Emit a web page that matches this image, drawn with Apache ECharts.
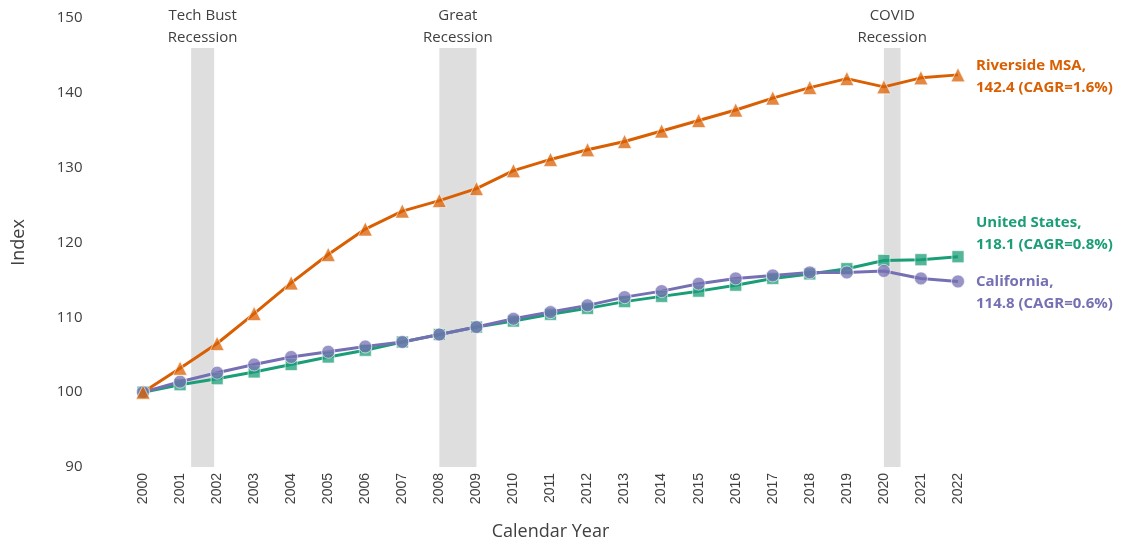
<!DOCTYPE html>
<html>
<head>
<meta charset="utf-8">
<script src="https://cdn.jsdelivr.net/npm/echarts@6/dist/echarts.min.js"></script>
<style>
  html, body { margin: 0; padding: 0; background: #fff; }
  #chart { width: 1121px; height: 542px; }
</style>
</head>
<body>
<div id="chart"></div>
<script>
// Calendar years on the horizontal axis
const years = ['2000','2001','2002','2003','2004','2005','2006','2007','2008','2009','2010',
  '2011','2012','2013','2014','2015','2016','2017','2018','2019','2020','2021','2022'];

// Index values (2000 = 100)
const riverside = [100.0, 103.2, 106.5, 110.5, 114.6, 118.4, 121.8, 124.2, 125.6, 127.2, 129.6,
  131.1, 132.4, 133.5, 134.9, 136.3, 137.7, 139.3, 140.7, 141.9, 140.8, 142.0, 142.4];
const unitedStates = [100.0, 101.0, 101.8, 102.7, 103.7, 104.7, 105.6, 106.7, 107.7, 108.7, 109.5,
  110.4, 111.2, 112.1, 112.8, 113.5, 114.3, 115.2, 115.8, 116.5, 117.6, 117.7, 118.1];
const california = [100.0, 101.4, 102.6, 103.7, 104.7, 105.4, 106.1, 106.7, 107.7, 108.7, 109.8,
  110.7, 111.6, 112.7, 113.5, 114.5, 115.2, 115.6, 116.0, 116.0, 116.2, 115.2, 114.8];

// Recession periods, in fractional years
const recessionNames = ['Tech Bust\nRecession', 'Great\nRecession', 'COVID\nRecession'];
const recessionStart = [2001.3, 2008.0, 2020.0];
const recessionEnd = [2001.92, 2009.0, 2020.45];
const recessionTop = 146;

const yTicks = { min: 90, max: 150, interval: 10 };

const colors = { riverside: '#d95f02', us: '#1b9e77', ca: '#7570b3' };

function cagr(values) {
  const n = values.length - 1;
  return (Math.pow(values[n] / values[0], 1 / n) - 1) * 100;
}

function endLabel(name, values, color, offsetY) {
  return {
    show: true,
    formatter: function (p) {
      return name + ',\n' + p.value.toFixed(1) + ' (CAGR=' + cagr(values).toFixed(1) + '%)';
    },
    color: color,
    fontFamily: 'Open Sans',
    fontWeight: 'bold',
    fontSize: 15,
    lineHeight: 22,
    align: 'left',
    distance: 18,
    offset: [0, offsetY]
  };
}

function lineSeries(name, values, color, symbol, size, offsetY) {
  return {
    name: name,
    type: 'line',
    data: values,
    symbol: symbol,
    symbolSize: size,
    lineStyle: { color: color, width: 3 },
    itemStyle: { color: color, opacity: 0.75, borderColor: 'rgba(255,255,255,0.8)', borderWidth: 1 },
    emphasis: { disabled: true },
    endLabel: endLabel(name, values, color, offsetY),
    labelLayout: { hideOverlap: false },
    z: 3
  };
}

const bands = recessionNames.map((label, i) => [
  { xAxis: recessionStart[i], yAxis: yTicks.min, name: label },
  { xAxis: recessionEnd[i], yAxis: recessionTop }
]);

const chart = echarts.init(document.getElementById('chart'), null, { renderer: 'canvas' });

chart.setOption({
  animation: false,
  backgroundColor: '#ffffff',
  grid: {
    left: 124.5, right: 144.5, top: 18, bottom: 75,
    containLabel: false, outerBoundsMode: 'none'
  },
  xAxis: [
    {
      type: 'category',
      data: years,
      boundaryGap: true,
      axisLine: { show: false },
      axisTick: { show: false },
      splitLine: { show: false },
      axisLabel: {
        rotate: 90,
        interval: 0,
        margin: 6,
        color: '#404040',
        fontFamily: 'Liberation Sans',
        fontSize: 14
      },
      name: 'Calendar Year',
      nameLocation: 'middle',
      nameGap: 56,
      nameTextStyle: { color: '#404040', fontFamily: 'Open Sans', fontSize: 18 }
    },
    {
      type: 'value',
      min: 1999.5,
      max: 2022.5,
      show: false
    }
  ],
  yAxis: {
    type: 'value',
    min: yTicks.min,
    max: yTicks.max,
    interval: yTicks.interval,
    axisLine: { show: false },
    axisTick: { show: false },
    splitLine: { show: false },
    axisLabel: { margin: 42, color: '#404040', fontFamily: 'Open Sans', fontSize: 15 },
    name: 'Index',
    nameLocation: 'middle',
    nameRotate: 90,
    nameGap: 97,
    nameTextStyle: { color: '#404040', fontFamily: 'Open Sans', fontSize: 18 }
  },
  series: [
    {
      name: 'Recessions',
      type: 'line',
      xAxisIndex: 1,
      data: [],
      silent: true,
      z: 1,
      markArea: {
        silent: true,
        itemStyle: { color: '#dedede' },
        label: {
          show: true,
          position: 'top',
          distance: -1,
          color: '#404040',
          fontFamily: 'Open Sans',
          fontSize: 15,
          lineHeight: 22
        },
        data: bands
      }
    },
    lineSeries('United States', unitedStates, colors.us, 'rect', 12, -23),
    lineSeries('California', california, colors.ca, 'circle', 13, 11),
    lineSeries('Riverside MSA', riverside, colors.riverside, 'triangle', 14, 2)
  ]
});
</script>
</body>
</html>
